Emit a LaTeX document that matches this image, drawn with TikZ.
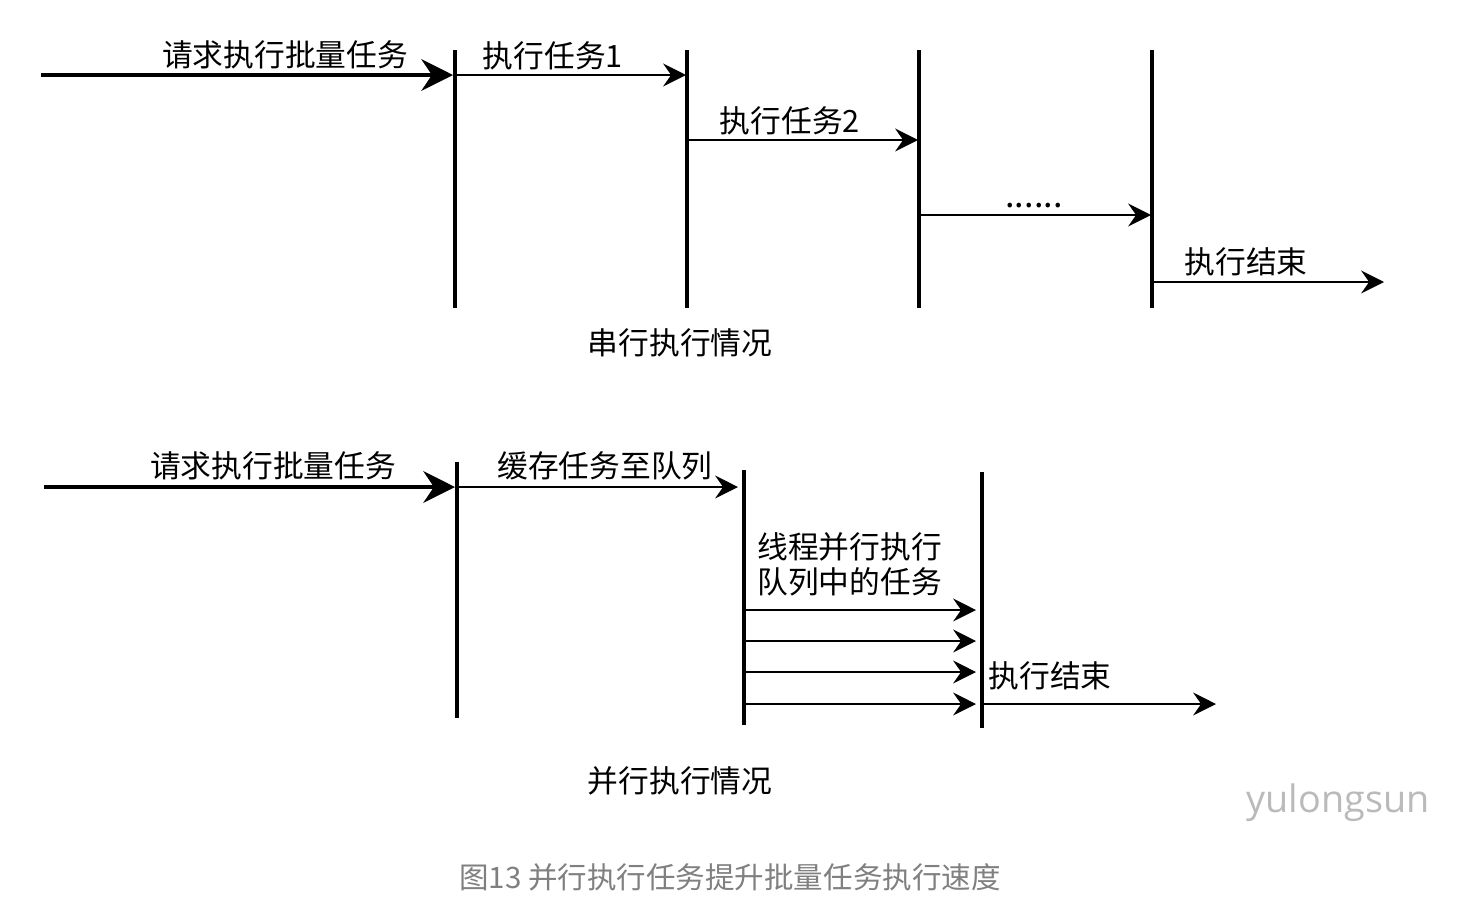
\documentclass[tikz,border=0pt]{standalone}
\usepackage{fontspec}
\setmainfont{Noto Sans CJK SC}
\newfontfamily\wmfont{Open Sans}
\usetikzlibrary{arrows.meta}
\begin{document}
\begin{tikzpicture}[x=0.02cm,y=-0.02cm,
  lbl/.style={inner sep=0pt,font=\fontsize{17.5}{21}\selectfont},
  bar/.style={line width=2.3pt},
  bigarrow/.style={line width=2.3pt,-{Stealth[length=18pt,width=18pt,inset=6pt]}},
  smallarrow/.style={line width=1.1pt,-{Stealth[length=13pt,width=13pt,inset=4.5pt]}}]
\fill[white] (0,0) rectangle (1479,904);
\useasboundingbox (0,0) rectangle (1479,904);
% ---------- serial ----------
\coordinate (s0) at (41,75);
\coordinate (a1t) at (455,50); \coordinate (a1b) at (455,308);
\coordinate (a2t) at (687,50); \coordinate (a2b) at (687,308);
\coordinate (a3t) at (919,50); \coordinate (a3b) at (919,308);
\coordinate (a4t) at (1152,50); \coordinate (a4b) at (1152,308);
\draw[bar] (a1t) -- (a1b);
\draw[bar] (a2t) -- (a2b);
\draw[bar] (a3t) -- (a3b);
\draw[bar] (a4t) -- (a4b);
\coordinate (s1) at (453,75);
\draw[bigarrow] (s0) -- (s1);
\coordinate (t1a) at (455,75); \coordinate (t1b) at (686,75);
\draw[smallarrow] (t1a) -- (t1b);
\coordinate (t2a) at (687,140); \coordinate (t2b) at (918,140);
\draw[smallarrow] (t2a) -- (t2b);
\coordinate (t3a) at (919,215); \coordinate (t3b) at (1151,215);
\draw[smallarrow] (t3a) -- (t3b);
\coordinate (t4a) at (1152,282); \coordinate (t4b) at (1384,282);
\draw[smallarrow] (t4a) -- (t4b);
\node[lbl] (l1) at (285,55) {请求执行批量任务};
\node[lbl] (l2) at (553,56) {执行任务1};
\node[lbl] (l3) at (790,121) {执行任务2};
\node[lbl,anchor=base,font=\fontsize{19.5}{21}\selectfont] (l4) at (1034,207) {......};
\node[lbl] (l5) at (1246,262) {执行结束};
\node[lbl] (l6) at (680,343) {串行执行情况};
% ---------- parallel ----------
\coordinate (p0) at (44,487);
\coordinate (b1t) at (457,462); \coordinate (b1b) at (457,718);
\coordinate (b2t) at (744,470); \coordinate (b2b) at (744,725);
\coordinate (b3t) at (982,472); \coordinate (b3b) at (982,728);
\draw[line width=1.8pt] (b1t) -- (b1b);
\draw[bar] (b2t) -- (b2b);
\draw[bar] (b3t) -- (b3b);
\coordinate (p1) at (455,487);
\draw[bigarrow] (p0) -- (p1);
\coordinate (q1a) at (457,487); \coordinate (q1b) at (738,487);
\draw[smallarrow] (q1a) -- (q1b);
\foreach \yy/\nm in {610/r1,641/r2,672/r3,704/r4}{
  \coordinate (\nm a) at (744,\yy); \coordinate (\nm b) at (976,\yy);
  \draw[smallarrow] (\nm a) -- (\nm b);
}
\coordinate (q5a) at (982,704); \coordinate (q5b) at (1216,704);
\draw[smallarrow] (q5a) -- (q5b);
\node[lbl] (m1) at (273,466) {请求执行批量任务};
\node[lbl] (m2) at (605,466) {缓存任务至队列};
\node[lbl,anchor=west,align=left,font=\fontsize{17.5}{19.8}\selectfont] (m3) at (757,564.5) {线程并行执行\\队列中的任务};
\node[lbl] (m4) at (1050,676) {执行结束};
\node[lbl] (m5) at (680,781) {并行执行情况};
% ---------- watermark & caption ----------
\node[inner sep=0pt,text=black!27,font=\wmfont\fontsize{21.5}{24}\selectfont] (wm) at (1338,803) {yulongsun};
\node[inner sep=0pt,text=black!50,font=\fontsize{16.8}{20}\selectfont] (cap) at (730,877) {图13 并行执行任务提升批量任务执行速度};
\end{tikzpicture}
\end{document}
